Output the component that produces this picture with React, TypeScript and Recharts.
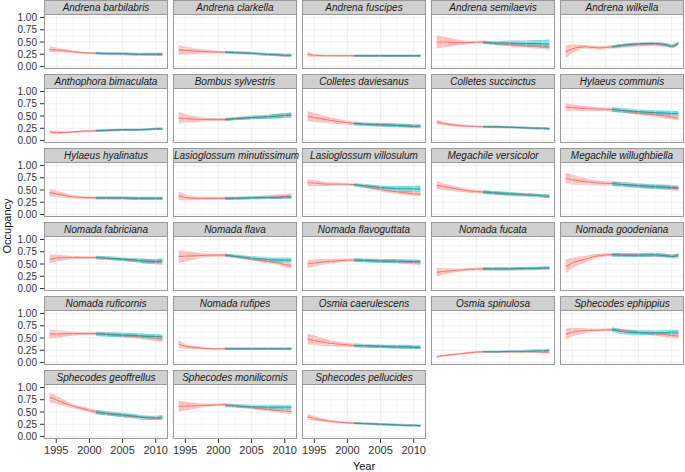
import React from 'react';
import { ComposedChart, Area, Line, XAxis, YAxis, ReferenceLine } from 'recharts';

// ---- data ----
const YEARS = [1994, 1995, 1997, 1999, 2001, 2003, 2005, 2007, 2009, 2010, 2011];
const TEAL_YEARS = [2001, 2003, 2005, 2007, 2009, 2010, 2011];

const SPECIES = [
  'Andrena barbilabris', 'Andrena clarkella', 'Andrena fuscipes', 'Andrena semilaevis', 'Andrena wilkella',
  'Anthophora bimaculata', 'Bombus sylvestris', 'Colletes daviesanus', 'Colletes succinctus', 'Hylaeus communis',
  'Hylaeus hyalinatus', 'Lasioglossum minutissimum', 'Lasioglossum villosulum', 'Megachile versicolor', 'Megachile willughbiella',
  'Nomada fabriciana', 'Nomada flava', 'Nomada flavoguttata', 'Nomada fucata', 'Nomada goodeniana',
  'Nomada ruficornis', 'Nomada rufipes', 'Osmia caerulescens', 'Osmia spinulosa', 'Sphecodes ephippius',
  'Sphecodes geoffrellus', 'Sphecodes monilicornis', 'Sphecodes pellucides',
];

// early-period model (red): mean and half-width of band at YEARS
const RED_MEAN = [
  [0.35, 0.34, 0.31, 0.28, 0.27, 0.26, 0.26, 0.25, 0.25, 0.25, 0.25],
  [0.34, 0.33, 0.31, 0.30, 0.29, 0.28, 0.27, 0.25, 0.24, 0.23, 0.23],
  [0.25, 0.23, 0.22, 0.22, 0.22, 0.22, 0.22, 0.22, 0.22, 0.22, 0.22],
  [0.50, 0.50, 0.49, 0.49, 0.50, 0.47, 0.45, 0.43, 0.41, 0.40, 0.39],
  [0.30, 0.36, 0.40, 0.38, 0.40, 0.43, 0.45, 0.46, 0.44, 0.42, 0.47],
  [0.18, 0.16, 0.17, 0.19, 0.20, 0.21, 0.22, 0.22, 0.23, 0.24, 0.24],
  [0.46, 0.45, 0.43, 0.43, 0.43, 0.45, 0.47, 0.48, 0.50, 0.51, 0.52],
  [0.50, 0.47, 0.42, 0.38, 0.35, 0.33, 0.32, 0.31, 0.30, 0.29, 0.29],
  [0.38, 0.35, 0.31, 0.29, 0.28, 0.27, 0.27, 0.26, 0.25, 0.25, 0.24],
  [0.68, 0.67, 0.65, 0.64, 0.63, 0.60, 0.56, 0.53, 0.50, 0.48, 0.46],
  [0.45, 0.42, 0.37, 0.35, 0.34, 0.34, 0.34, 0.33, 0.33, 0.33, 0.33],
  [0.38, 0.35, 0.33, 0.33, 0.33, 0.34, 0.35, 0.35, 0.36, 0.37, 0.37],
  [0.65, 0.64, 0.62, 0.62, 0.61, 0.56, 0.51, 0.47, 0.44, 0.42, 0.41],
  [0.60, 0.57, 0.52, 0.48, 0.46, 0.44, 0.42, 0.41, 0.39, 0.38, 0.37],
  [0.74, 0.71, 0.67, 0.64, 0.63, 0.61, 0.59, 0.57, 0.55, 0.54, 0.53],
  [0.60, 0.62, 0.63, 0.63, 0.63, 0.61, 0.59, 0.57, 0.55, 0.54, 0.53],
  [0.65, 0.66, 0.67, 0.68, 0.68, 0.64, 0.60, 0.56, 0.52, 0.49, 0.47],
  [0.50, 0.52, 0.55, 0.57, 0.58, 0.57, 0.56, 0.55, 0.54, 0.53, 0.52],
  [0.33, 0.35, 0.37, 0.39, 0.40, 0.40, 0.40, 0.40, 0.41, 0.41, 0.41],
  [0.45, 0.52, 0.60, 0.67, 0.69, 0.69, 0.68, 0.68, 0.67, 0.66, 0.66],
  [0.58, 0.58, 0.59, 0.59, 0.59, 0.57, 0.55, 0.53, 0.51, 0.49, 0.48],
  [0.38, 0.33, 0.30, 0.28, 0.28, 0.28, 0.28, 0.28, 0.28, 0.28, 0.28],
  [0.48, 0.45, 0.40, 0.37, 0.35, 0.34, 0.33, 0.32, 0.31, 0.31, 0.30],
  [0.12, 0.14, 0.17, 0.20, 0.22, 0.22, 0.22, 0.22, 0.22, 0.21, 0.21],
  [0.58, 0.62, 0.65, 0.66, 0.67, 0.65, 0.62, 0.59, 0.57, 0.55, 0.54],
  [0.80, 0.75, 0.64, 0.57, 0.50, 0.46, 0.43, 0.40, 0.38, 0.37, 0.36],
  [0.62, 0.62, 0.63, 0.64, 0.65, 0.62, 0.59, 0.56, 0.53, 0.52, 0.51],
  [0.40, 0.37, 0.32, 0.29, 0.27, 0.26, 0.25, 0.24, 0.23, 0.23, 0.22],
];
const RED_HALF = [
  [0.06, 0.05, 0.03, 0.02, 0.02, 0.02, 0.02, 0.02, 0.02, 0.03, 0.03],
  [0.10, 0.08, 0.05, 0.03, 0.02, 0.02, 0.02, 0.02, 0.03, 0.03, 0.03],
  [0.05, 0.03, 0.02, 0.02, 0.02, 0.02, 0.02, 0.02, 0.02, 0.02, 0.02],
  [0.13, 0.11, 0.06, 0.03, 0.03, 0.03, 0.04, 0.04, 0.05, 0.05, 0.05],
  [0.13, 0.09, 0.04, 0.04, 0.04, 0.04, 0.04, 0.04, 0.04, 0.04, 0.04],
  [0.03, 0.03, 0.02, 0.02, 0.02, 0.02, 0.02, 0.02, 0.02, 0.02, 0.02],
  [0.12, 0.09, 0.05, 0.03, 0.03, 0.03, 0.03, 0.03, 0.04, 0.04, 0.05],
  [0.10, 0.09, 0.07, 0.05, 0.04, 0.03, 0.03, 0.03, 0.03, 0.03, 0.03],
  [0.05, 0.04, 0.03, 0.02, 0.02, 0.02, 0.02, 0.02, 0.02, 0.02, 0.02],
  [0.08, 0.07, 0.05, 0.04, 0.04, 0.04, 0.04, 0.04, 0.05, 0.05, 0.05],
  [0.08, 0.07, 0.04, 0.03, 0.03, 0.03, 0.03, 0.03, 0.03, 0.03, 0.03],
  [0.09, 0.06, 0.04, 0.03, 0.03, 0.03, 0.03, 0.04, 0.05, 0.05, 0.06],
  [0.07, 0.06, 0.04, 0.03, 0.03, 0.03, 0.04, 0.04, 0.04, 0.04, 0.04],
  [0.08, 0.07, 0.05, 0.04, 0.03, 0.03, 0.03, 0.03, 0.03, 0.03, 0.03],
  [0.11, 0.10, 0.07, 0.05, 0.04, 0.04, 0.04, 0.04, 0.04, 0.04, 0.04],
  [0.09, 0.07, 0.04, 0.03, 0.03, 0.03, 0.03, 0.04, 0.05, 0.05, 0.05],
  [0.13, 0.11, 0.06, 0.03, 0.03, 0.03, 0.03, 0.04, 0.04, 0.05, 0.05],
  [0.08, 0.07, 0.05, 0.04, 0.03, 0.03, 0.03, 0.04, 0.04, 0.04, 0.05],
  [0.09, 0.07, 0.04, 0.03, 0.03, 0.03, 0.03, 0.03, 0.03, 0.03, 0.03],
  [0.14, 0.11, 0.07, 0.04, 0.03, 0.03, 0.03, 0.03, 0.04, 0.04, 0.05],
  [0.09, 0.08, 0.05, 0.03, 0.03, 0.03, 0.03, 0.04, 0.05, 0.05, 0.06],
  [0.08, 0.05, 0.03, 0.02, 0.02, 0.02, 0.02, 0.02, 0.02, 0.02, 0.02],
  [0.11, 0.10, 0.07, 0.05, 0.04, 0.03, 0.03, 0.03, 0.03, 0.03, 0.03],
  [0.02, 0.02, 0.02, 0.02, 0.02, 0.02, 0.02, 0.02, 0.02, 0.02, 0.02],
  [0.11, 0.09, 0.05, 0.03, 0.03, 0.03, 0.04, 0.04, 0.05, 0.05, 0.06],
  [0.10, 0.08, 0.05, 0.04, 0.04, 0.03, 0.03, 0.03, 0.03, 0.03, 0.03],
  [0.11, 0.09, 0.05, 0.03, 0.03, 0.03, 0.03, 0.04, 0.04, 0.05, 0.05],
  [0.06, 0.05, 0.03, 0.02, 0.02, 0.02, 0.02, 0.02, 0.02, 0.02, 0.02],
];

// later-period model (teal): mean and half-width at TEAL_YEARS
const TEAL_MEAN = [
  [0.27, 0.26, 0.26, 0.25, 0.25, 0.25, 0.25],
  [0.29, 0.28, 0.27, 0.25, 0.24, 0.23, 0.23],
  [0.22, 0.22, 0.22, 0.22, 0.22, 0.22, 0.22],
  [0.49, 0.48, 0.48, 0.47, 0.47, 0.46, 0.46],
  [0.40, 0.44, 0.46, 0.47, 0.45, 0.41, 0.48],
  [0.20, 0.21, 0.22, 0.22, 0.23, 0.24, 0.24],
  [0.43, 0.45, 0.47, 0.48, 0.50, 0.51, 0.52],
  [0.35, 0.33, 0.32, 0.31, 0.30, 0.29, 0.29],
  [0.28, 0.28, 0.27, 0.26, 0.25, 0.25, 0.24],
  [0.63, 0.61, 0.59, 0.57, 0.56, 0.55, 0.55],
  [0.34, 0.34, 0.34, 0.33, 0.33, 0.33, 0.33],
  [0.33, 0.33, 0.34, 0.35, 0.35, 0.36, 0.36],
  [0.61, 0.58, 0.55, 0.53, 0.52, 0.52, 0.52],
  [0.46, 0.44, 0.42, 0.40, 0.39, 0.38, 0.37],
  [0.63, 0.61, 0.59, 0.57, 0.56, 0.55, 0.54],
  [0.63, 0.62, 0.60, 0.58, 0.55, 0.55, 0.57],
  [0.68, 0.65, 0.62, 0.60, 0.58, 0.58, 0.58],
  [0.58, 0.57, 0.56, 0.56, 0.55, 0.55, 0.55],
  [0.40, 0.40, 0.40, 0.41, 0.41, 0.42, 0.42],
  [0.69, 0.68, 0.68, 0.69, 0.67, 0.65, 0.68],
  [0.59, 0.57, 0.56, 0.55, 0.53, 0.53, 0.52],
  [0.28, 0.28, 0.28, 0.28, 0.28, 0.28, 0.28],
  [0.35, 0.34, 0.33, 0.32, 0.32, 0.31, 0.31],
  [0.22, 0.22, 0.23, 0.23, 0.24, 0.24, 0.25],
  [0.67, 0.62, 0.61, 0.61, 0.61, 0.62, 0.62],
  [0.50, 0.47, 0.44, 0.41, 0.38, 0.38, 0.40],
  [0.63, 0.62, 0.61, 0.60, 0.60, 0.60, 0.60],
  [0.27, 0.26, 0.25, 0.24, 0.23, 0.23, 0.22],
];
const TEAL_HALF = [
  [0.03, 0.03, 0.03, 0.03, 0.03, 0.03, 0.03],
  [0.03, 0.03, 0.03, 0.03, 0.03, 0.03, 0.03],
  [0.025, 0.025, 0.025, 0.025, 0.025, 0.025, 0.025],
  [0.03, 0.04, 0.05, 0.06, 0.07, 0.08, 0.09],
  [0.03, 0.03, 0.03, 0.03, 0.03, 0.03, 0.03],
  [0.025, 0.025, 0.025, 0.025, 0.025, 0.025, 0.025],
  [0.03, 0.03, 0.04, 0.04, 0.05, 0.05, 0.05],
  [0.04, 0.04, 0.04, 0.04, 0.04, 0.04, 0.04],
  [0.025, 0.025, 0.025, 0.025, 0.025, 0.025, 0.025],
  [0.05, 0.05, 0.05, 0.05, 0.05, 0.05, 0.05],
  [0.035, 0.035, 0.035, 0.035, 0.035, 0.035, 0.035],
  [0.035, 0.035, 0.035, 0.035, 0.035, 0.035, 0.035],
  [0.04, 0.04, 0.04, 0.05, 0.06, 0.06, 0.07],
  [0.04, 0.04, 0.04, 0.04, 0.04, 0.04, 0.04],
  [0.05, 0.05, 0.05, 0.05, 0.05, 0.05, 0.05],
  [0.04, 0.04, 0.04, 0.04, 0.05, 0.05, 0.06],
  [0.03, 0.04, 0.04, 0.05, 0.05, 0.05, 0.05],
  [0.04, 0.04, 0.04, 0.04, 0.04, 0.04, 0.04],
  [0.035, 0.035, 0.035, 0.035, 0.035, 0.035, 0.035],
  [0.04, 0.04, 0.04, 0.04, 0.04, 0.04, 0.04],
  [0.05, 0.05, 0.05, 0.05, 0.05, 0.05, 0.05],
  [0.025, 0.025, 0.025, 0.025, 0.025, 0.025, 0.025],
  [0.04, 0.04, 0.04, 0.04, 0.04, 0.04, 0.04],
  [0.02, 0.02, 0.02, 0.025, 0.03, 0.03, 0.03],
  [0.05, 0.05, 0.05, 0.05, 0.05, 0.05, 0.05],
  [0.045, 0.045, 0.045, 0.045, 0.045, 0.045, 0.045],
  [0.03, 0.04, 0.04, 0.05, 0.05, 0.05, 0.05],
  [0.025, 0.025, 0.025, 0.025, 0.025, 0.025, 0.025],
];

const Y_TICKS = [0, 0.25, 0.5, 0.75, 1];
const Y_MINOR = [0.125, 0.375, 0.625, 0.875];
const X_TICKS = [1995, 2000, 2005, 2010];
const X_MINOR = [1997.5, 2002.5, 2007.5];

// ---- layout ----
const COL_LEFT = [44, 173, 302, 431, 560];
const PANEL_W = 124;
const STRIP_H = 15;
const PLOT_H = 54;
const ROW_PITCH = 74;
const Y_AXIS_W = 44;
const X_AXIS_H = 24;
const PAD = 7;
const N_ROWS = 6;

const RED = '#F8766D';
const TEAL = '#00BFC4';
const FONT = '"Liberation Sans", Arial, Helvetica, sans-serif';

function buildData(i: number) {
  return YEARS.map((year, k) => {
    const rm = RED_MEAN[i][k];
    const rh = RED_HALF[i][k];
    const tk = TEAL_YEARS.indexOf(year);
    const tm = tk >= 0 ? TEAL_MEAN[i][tk] : null;
    const th = tk >= 0 ? TEAL_HALF[i][tk] : 0;
    return {
      year,
      rm,
      rr: [rm - rh, rm + rh],
      tm,
      tr: tm === null ? null : [tm - th, tm + th],
    };
  });
}

function Panel({ idx }: { idx: number }) {
  const col = idx % 5;
  const row = Math.floor(idx / 5);
  const isLeft = col === 0;
  const isBottom = row === N_ROWS - 1;
  const leftExtra = isLeft ? Y_AXIS_W : 0;
  const bottomExtra = isBottom ? X_AXIS_H : PAD;
  const data = buildData(idx);

  return (
    <div
      style={{
        position: 'absolute',
        left: COL_LEFT[col] - leftExtra,
        top: row * ROW_PITCH,
        width: PANEL_W + leftExtra,
        height: STRIP_H + PLOT_H + bottomExtra,
      }}
    >
      <div style={{ position: 'absolute', left: 0, top: STRIP_H - PAD }}>
        <ComposedChart
          width={PANEL_W + leftExtra}
          height={PAD + PLOT_H + bottomExtra}
          data={data}
          margin={{ top: PAD, right: 0, bottom: isBottom ? 0 : PAD, left: 0 }}
        >
          <XAxis
            type="number"
            dataKey="year"
            domain={[1993.15, 2011.85]}
            allowDataOverflow
            ticks={X_TICKS}
            hide={!isBottom}
            height={X_AXIS_H}
            axisLine={false}
            tickSize={4}
            tickMargin={3}
            tickLine={{ stroke: '#333333' }}
            tick={{ fontSize: 11, fill: '#333333', fontFamily: FONT }}
            interval={0}
          />
          <YAxis
            type="number"
            domain={[-0.05, 1.05]}
            allowDataOverflow
            ticks={Y_TICKS}
            hide={!isLeft}
            width={Y_AXIS_W}
            axisLine={false}
            tickSize={4}
            tickMargin={3}
            tickLine={{ stroke: '#333333' }}
            tick={{ fontSize: 10, fill: '#333333', fontFamily: FONT }}
            tickFormatter={(v: number) => v.toFixed(2)}
            interval={0}
          />
          {Y_MINOR.map((v) => (
            <ReferenceLine key={'ym' + v} y={v} stroke="#f4f4f4" strokeWidth={0.6} />
          ))}
          {X_MINOR.map((v) => (
            <ReferenceLine key={'xm' + v} x={v} stroke="#f4f4f4" strokeWidth={0.6} />
          ))}
          {Y_TICKS.map((v) => (
            <ReferenceLine key={'y' + v} y={v} stroke="#e6e6e6" strokeWidth={0.6} />
          ))}
          {X_TICKS.map((v) => (
            <ReferenceLine key={'x' + v} x={v} stroke="#e6e6e6" strokeWidth={0.6} />
          ))}
          <Area
            type="monotone"
            dataKey="rr"
            stroke="none"
            fill={RED}
            fillOpacity={0.45}
            isAnimationActive={false}
            activeDot={false}
          />
          <Line
            type="monotone"
            dataKey="rm"
            stroke={RED}
            strokeWidth={1}
            dot={false}
            activeDot={false}
            isAnimationActive={false}
          />
          <Area
            type="monotone"
            dataKey="tr"
            stroke="none"
            fill={TEAL}
            fillOpacity={0.55}
            isAnimationActive={false}
            activeDot={false}
          />
          <Line
            type="monotone"
            dataKey="tm"
            stroke="#2f9a9c"
            strokeWidth={1}
            dot={false}
            activeDot={false}
            isAnimationActive={false}
          />
        </ComposedChart>
      </div>
      <div
        style={{
          position: 'absolute',
          left: leftExtra,
          top: 0,
          width: PANEL_W,
          height: STRIP_H,
          boxSizing: 'border-box',
          background: '#d0d0d0',
          border: '1px solid #9a9a9a',
          fontStyle: 'italic',
          fontSize: 10,
          lineHeight: '13px',
          textAlign: 'center',
          whiteSpace: 'nowrap',
          color: '#1a1a1a',
          overflow: 'visible',
        }}
      >
        {SPECIES[idx]}
      </div>
      <div
        style={{
          position: 'absolute',
          left: leftExtra,
          top: STRIP_H - 1,
          width: PANEL_W,
          height: PLOT_H + 1,
          boxSizing: 'border-box',
          border: '1px solid #9a9a9a',
          pointerEvents: 'none',
        }}
      />
    </div>
  );
}

export default function App() {
  return (
    <div
      style={{
        position: 'absolute',
        left: 0,
        top: 0,
        width: 685,
        height: 472,
        background: '#ffffff',
        fontFamily: FONT,
        overflow: 'hidden',
      }}
    >
      {SPECIES.map((_, i) => (
        <Panel key={i} idx={i} />
      ))}
      <div
        style={{
          position: 'absolute',
          left: 7,
          top: 226,
          transform: 'translate(-50%, -50%) rotate(-90deg)',
          fontSize: 11,
          color: '#111',
          whiteSpace: 'nowrap',
        }}
      >
        Occupancy
      </div>
      <div
        style={{
          position: 'absolute',
          left: 364,
          top: 466,
          transform: 'translate(-50%, -50%)',
          fontSize: 11,
          color: '#111',
          whiteSpace: 'nowrap',
        }}
      >
        Year
      </div>
    </div>
  );
}
